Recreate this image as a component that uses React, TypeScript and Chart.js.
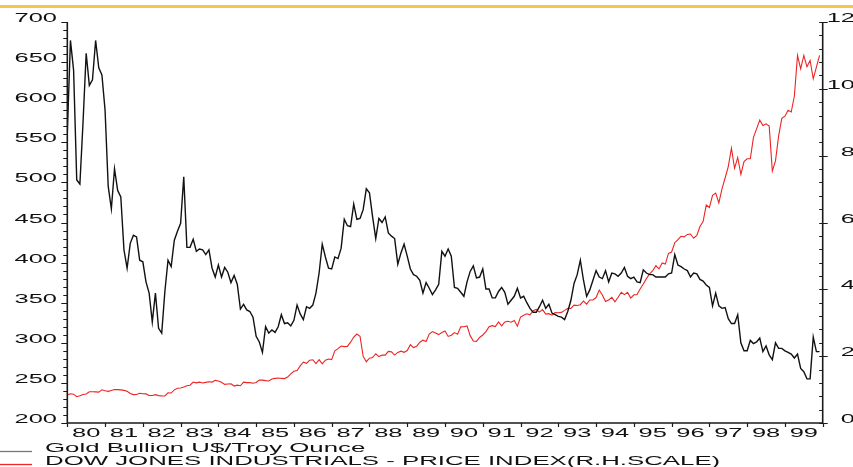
import { useEffect, useRef } from 'react';
import { Chart, registerables } from 'chart.js';

Chart.register(...registerables);

// x categories: year labels, one per calendar year (points are month-end values, Dec 1979 .. Nov 1999)
const yearLabels = ['80', '81', '82', '83', '84', '85', '86', '87', '88', '89', '90', '91', '92', '93', '94', '95', '96', '97', '98', '99'];
const goldTickLabels = ['200', '250', '300', '350', '400', '450', '500', '550', '600', '650', '700'];
const dowTickLabels = ['0', '2', '4', '6', '8', '10', '12'];
const legendLabels = ['Gold Bullion U$/Troy Ounce', 'DOW JONES INDUSTRIALS - PRICE INDEX(R.H.SCALE)'];

// Gold Bullion U$/Troy Ounce, monthly (Dec 1979 .. Nov 1999)
const gold = [
  561, 677, 640, 503, 498, 575, 661, 621, 628, 677,
  643, 634, 590, 495, 467, 517, 490, 482, 416, 393,
  424, 434, 432, 403, 401, 376, 362, 326, 362, 318,
  312, 364, 403, 395, 428, 439, 449, 507, 419, 419,
  429, 414, 417, 416, 410, 416, 393, 382, 397, 382,
  394, 388, 375, 384, 373, 342, 348, 341, 339, 332,
  308, 301, 288, 320, 312, 316, 313, 320, 335, 324,
  325, 321, 328, 347, 336, 329, 345, 343, 347, 362,
  387, 423, 407, 393, 392, 407, 405, 418, 454, 446,
  445, 473, 454, 455, 466, 492, 487, 457, 430, 455,
  450, 457, 437, 433, 430, 398, 412, 423, 408, 392,
  385, 383, 378, 362, 375, 368, 360, 366, 373, 414,
  408, 417, 408, 369, 368, 363, 358, 376, 389, 396,
  381, 382, 392, 367, 367, 356, 356, 364, 369, 363,
  348, 353, 358, 368, 356, 358, 350, 343, 338, 338,
  345, 353, 343, 348, 337, 335, 333, 332, 329, 339,
  353, 374, 385, 403, 378, 358, 366, 378, 390, 382,
  380, 390, 376, 387, 386, 383, 387, 394, 383, 380,
  382, 376, 375, 391, 387, 385, 385, 382, 382, 382,
  382, 386, 387, 410, 397, 395, 392, 390, 382, 387,
  386, 379, 377, 372, 369, 346, 362, 346, 343, 344,
  330, 324, 324, 335, 300, 290, 290, 303, 299, 301,
  306, 289, 296, 285, 279, 300, 293, 293, 290, 288,
  286, 281, 286, 268, 264, 255, 255, 307, 289, 289,
];

// Dow Jones Industrials price index, monthly (Dec 1979 .. Nov 1999)
const dow = [
  839,
  876, 863, 786, 817, 851, 868, 935, 933, 932, 925, 993, 964,
  947, 975, 1004, 998, 992, 977, 952, 882, 850, 853, 889, 875,
  871, 824, 823, 848, 820, 812, 809, 901, 896, 992, 1039, 1047,
  1076, 1113, 1130, 1226, 1200, 1222, 1199, 1216, 1233, 1225, 1276, 1259,
  1221, 1155, 1165, 1171, 1105, 1132, 1115, 1224, 1207, 1207, 1189, 1212,
  1287, 1284, 1267, 1258, 1315, 1336, 1348, 1334, 1329, 1374, 1472, 1547,
  1571, 1709, 1819, 1784, 1877, 1893, 1775, 1898, 1768, 1878, 1914, 1896,
  2158, 2224, 2305, 2286, 2292, 2419, 2572, 2663, 2596, 1994, 1834, 1939,
  1958, 2072, 1988, 2032, 2031, 2142, 2129, 2032, 2113, 2149, 2115, 2169,
  2342, 2258, 2294, 2419, 2480, 2440, 2661, 2737, 2693, 2645, 2706, 2753,
  2591, 2627, 2707, 2657, 2877, 2881, 2905, 2614, 2453, 2442, 2560, 2634,
  2736, 2882, 2914, 2888, 3028, 2907, 3025, 3044, 3017, 3069, 2895, 3169,
  3223, 3268, 3236, 3359, 3397, 3319, 3394, 3257, 3272, 3226, 3305, 3301,
  3310, 3371, 3435, 3428, 3527, 3516, 3540, 3651, 3555, 3681, 3684, 3754,
  3978, 3832, 3636, 3682, 3758, 3625, 3765, 3913, 3843, 3908, 3739, 3834,
  3844, 4011, 4158, 4321, 4465, 4556, 4709, 4611, 4789, 4756, 5075, 5117,
  5395, 5486, 5587, 5569, 5643, 5655, 5529, 5616, 5882, 6029, 6522, 6448,
  6813, 6878, 6584, 7009, 7331, 7673, 8223, 7622, 7945, 7442, 7823, 7908,
  7907, 8546, 8800, 9063, 8900, 8952, 8883, 7539, 7843, 8592, 9117, 9181,
  9359, 9307, 9786, 11000, 10600, 11000, 10660, 10850, 10300, 10650, 11000,
];

const SX = 2.12; // horizontal stretch of the original's lettering
const SX_LEGEND = 2.15;
const FONT = '12px "Liberation Sans", Arial, Helvetica, sans-serif';

function stretchedText(ctx: CanvasRenderingContext2D, s: string, x: number, y: number, align: 'left' | 'right' | 'center', sx: number = SX) {
  ctx.save();
  ctx.font = FONT;
  ctx.textBaseline = 'alphabetic';
  ctx.textAlign = 'left';
  const w = ctx.measureText(s).width * sx;
  const x0 = align === 'right' ? x - w : align === 'center' ? x - w / 2 : x;
  ctx.translate(x0, y);
  ctx.scale(sx, 1);
  ctx.fillStyle = '#111';
  ctx.fillText(s, 0, 0);
  ctx.restore();
}

const decorPlugin = {
  id: 'decor',
  afterDraw(chart: any) {
    const ctx: CanvasRenderingContext2D = chart.ctx;
    const { left, right, top, bottom } = chart.chartArea;
    const xs = chart.scales.x;
    const yl = chart.scales.yGold;
    const yr = chart.scales.yDow;
    ctx.save();
    // top rule
    ctx.fillStyle = '#f6c646';
    ctx.fillRect(0, 5, chart.width, 3);

    ctx.strokeStyle = '#1a1a1a';
    ctx.lineWidth = 1.6;
    ctx.beginPath();
    ctx.moveTo(left, top);
    ctx.lineTo(left, bottom);
    ctx.lineTo(right, bottom);
    ctx.lineTo(right, top);
    ctx.stroke();

    ctx.lineWidth = 1.2;
    ctx.beginPath();
    // left axis ticks (minor every 10, major every 50)
    for (let v = 200; v <= 700; v += 10) {
      const y = Math.round(yl.getPixelForValue(v)) + 0.5;
      const major = v % 50 === 0;
      ctx.moveTo(left, y);
      ctx.lineTo(left - (major ? 6 : 4), y);
    }
    // right axis ticks (minor every 400, major every 2000)
    for (let v = 0; v <= 12000; v += 400) {
      const y = Math.round(yr.getPixelForValue(v)) + 0.5;
      const major = v % 2000 === 0;
      ctx.moveTo(right - 3.5, y);
      ctx.lineTo(right + (major ? 5 : 0), y);
    }
    // x axis ticks at year boundaries
    for (let i = 0; i <= yearLabels.length; i++) {
      const x = Math.round(xs.getPixelForValue(i * 12)) + 0.5;
      ctx.moveTo(x, bottom);
      ctx.lineTo(x, bottom + 4);
    }
    ctx.stroke();
    ctx.restore();

    goldTickLabels.forEach((s) => {
      stretchedText(ctx, s, 57, yl.getPixelForValue(Number(s)), 'right');
    });
    dowTickLabels.forEach((s) => {
      stretchedText(ctx, s, 855, yr.getPixelForValue(Number(s) * 1000), 'right');
    });
    yearLabels.forEach((s, i) => {
      stretchedText(ctx, s, xs.getPixelForValue(i * 12 + 6), 437, 'center');
    });

    // legend
    ctx.save();
    ctx.lineWidth = 1.3;
    ctx.strokeStyle = '#777';
    ctx.beginPath();
    ctx.moveTo(0, 451.5);
    ctx.lineTo(32, 451.5);
    ctx.stroke();
    ctx.strokeStyle = '#f02828';
    ctx.beginPath();
    ctx.moveTo(0, 464.5);
    ctx.lineTo(32, 464.5);
    ctx.stroke();
    ctx.restore();
    stretchedText(ctx, legendLabels[0], 45, 451.5, 'left', SX_LEGEND);
    stretchedText(ctx, legendLabels[1], 45, 465.3, 'left', SX_LEGEND);
  },
};

export default function App() {
  const ref = useRef<HTMLCanvasElement | null>(null);
  useEffect(() => {
    if (!ref.current) return;
    const chart = new Chart(ref.current, {
      type: 'line',
      data: {
        datasets: [
          {
            label: legendLabels[0],
            data: gold.map((v, i) => ({ x: i, y: v })),
            borderColor: '#111111',
            borderWidth: 1.4,
            pointRadius: 0,
            tension: 0,
            yAxisID: 'yGold',
          },
          {
            label: legendLabels[1],
            data: dow.map((v, i) => ({ x: i, y: v })),
            borderColor: '#ee2424',
            borderWidth: 1.1,
            pointRadius: 0,
            tension: 0,
            yAxisID: 'yDow',
          },
        ],
      },
      options: {
        animation: false,
        responsive: false,
        maintainAspectRatio: false,
        devicePixelRatio: 1,
        layout: { padding: { left: 67.3, right: 30.3, top: 22, bottom: 44 } },
        plugins: { legend: { display: false }, tooltip: { enabled: false } },
        scales: {
          x: { type: 'linear', min: 0, max: 240, display: false },
          yGold: { type: 'linear', position: 'left', min: 200, max: 700, display: false },
          yDow: { type: 'linear', position: 'right', min: 0, max: 12000, display: false },
        },
      },
      plugins: [decorPlugin],
    });
    return () => chart.destroy();
  }, []);
  return (
    <div style={{ position: 'fixed', left: 0, top: 0, width: 853, height: 467, background: '#fff' }}>
      <canvas ref={ref} width={853} height={467} style={{ width: 853, height: 467, display: 'block' }} />
    </div>
  );
}
